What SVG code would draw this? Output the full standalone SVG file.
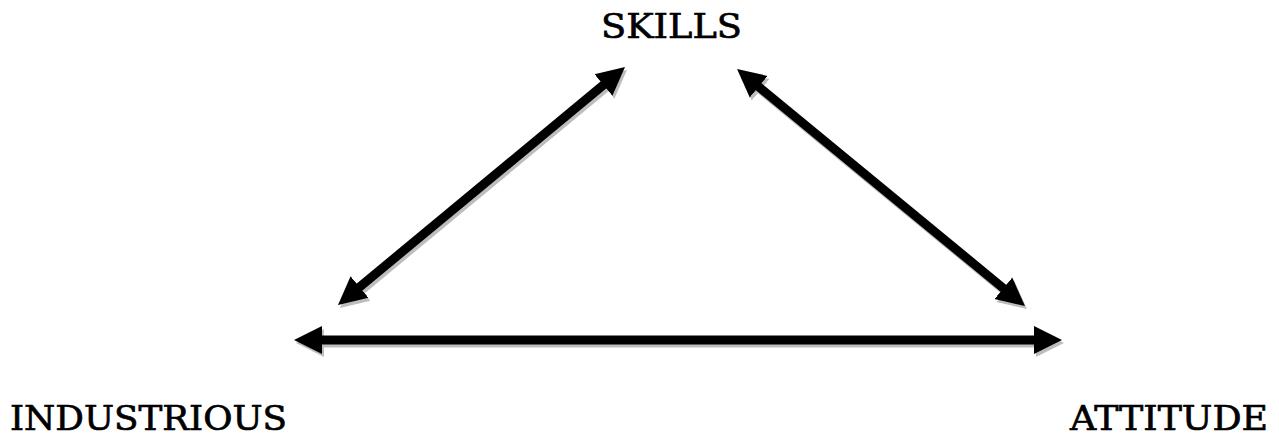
<svg xmlns="http://www.w3.org/2000/svg" width="1279" height="438" viewBox="0 0 1279 438">
<style>
.lbl{font-family:"DejaVu Serif","Liberation Serif",serif;font-size:34px;fill:#000;stroke:#000;stroke-width:0.7}
.ar{stroke:#000;stroke-width:9;fill:none;marker-start:url(#hb);marker-end:url(#hb)}
.sh{stroke:#bdbdbd;stroke-width:9;fill:none;marker-start:url(#hg);marker-end:url(#hg)}
</style>
<defs>
<marker id="hb" markerUnits="userSpaceOnUse" markerWidth="30" markerHeight="30" refX="12" refY="14" orient="auto-start-reverse" viewBox="0 0 30 28"><path d="M0,0 L28,14 L0,28 z" fill="#000"/></marker>
<marker id="hg" markerUnits="userSpaceOnUse" markerWidth="30" markerHeight="30" refX="12" refY="14" orient="auto-start-reverse" viewBox="0 0 30 28"><path d="M0,0 L28,14 L0,28 z" fill="#bdbdbd"/></marker>
</defs>
<rect width="1279" height="438" fill="#fff"/>
<g id="connectors">
<g transform="translate(2,3)">
<line class="sh" x1="350.3" y1="294.7" x2="612.7" y2="77.3"/>
<line class="sh" x1="749.4" y1="79.1" x2="1012.6" y2="295.9"/>
<line class="sh" x1="310" y1="340" x2="1046" y2="340"/>
</g>
<line class="ar" x1="350.3" y1="294.7" x2="612.7" y2="77.3"/>
<line class="ar" x1="749.4" y1="79.1" x2="1012.6" y2="295.9"/>
<line class="ar" x1="310" y1="340" x2="1046" y2="340"/>
</g>
<g id="skills"><text class="lbl" x="601" y="38" textLength="141" lengthAdjust="spacingAndGlyphs">SKILLS</text></g>
<g id="industrious"><text class="lbl" x="10" y="430" textLength="277" lengthAdjust="spacingAndGlyphs">INDUSTRIOUS</text></g>
<g id="attitude"><text class="lbl" x="1070" y="430" textLength="198" lengthAdjust="spacingAndGlyphs">ATTITUDE</text></g>
</svg>
